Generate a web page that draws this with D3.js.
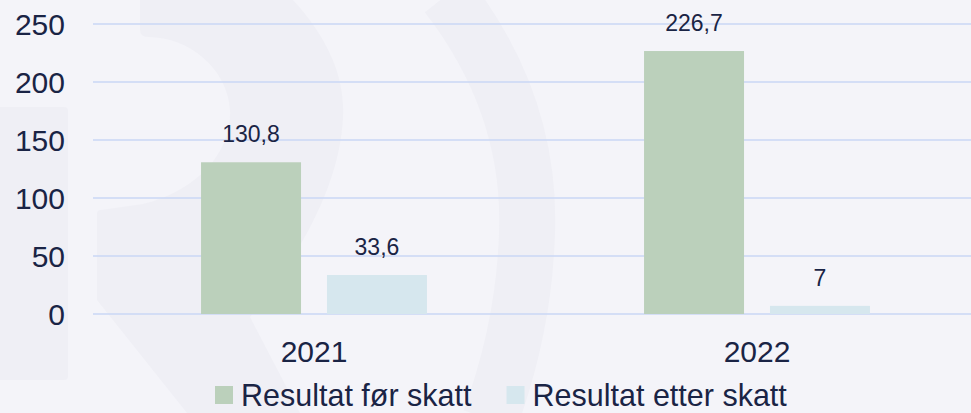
<!DOCTYPE html>
<html>
<head>
<meta charset="utf-8">
<script src="https://cdn.jsdelivr.net/npm/d3@7"></script>
<style>
  html, body { margin: 0; padding: 0; background: #f4f4f9; }
  svg { display: block; font-family: "Liberation Sans", Arial, sans-serif; }
</style>
</head>
<body>
<div class="chart"></div>
<script>
const years = ["2021", "2022"];
const series = ["Resultat før skatt", "Resultat etter skatt"];
const beforeTax = [130.8, 226.7];
const afterTax = [33.6, 7];
const valueLabels = [["130,8", "33,6"], ["226,7", "7"]];
const yTicks = [0, 50, 100, 150, 200, 250];

const w = 971;
const h = 413;
const textColour = "#1a2445";
const colours = ["#bbd0bb", "#d6e7ee"];

const svg = d3
  .select(".chart")
  .append("svg")
  .attr("width", w)
  .attr("height", h);

svg.append("rect").attr("width", w).attr("height", h).attr("fill", "#f4f4f9");

// faint logo watermark behind the chart
const mark = svg.append("g").attr("fill", "#efeff5");
mark.append("rect")
  .attr("x", -6).attr("y", 107).attr("width", 74).attr("height", 273).attr("rx", 4);
mark.append("path")
  .attr("d", "M140,0 L293,0 C330,40 345,80 343,117 C340,185 300,255 250,317 L300,413 L187,413 L97,300 L97,214 Q97,210 101,210 L143,204 C200,190 232,150 230,110 C228,70 190,37 148,37 Q140,37 140,30 Z");
mark.append("path")
  .attr("d", "M447,-5 C505,70 530,150 527,233 C525,300 512,360 490,420")
  .attr("fill", "none")
  .attr("stroke", "#efeff5")
  .attr("stroke-width", 56);

// scales
const yScale = d3.scaleLinear().domain([0, 250]).range([314, 24]);

const x0 = d3
  .scaleBand()
  .domain(years)
  .range([92.5, 978.5])
  .paddingInner(0.49)
  .paddingOuter(0.245);

const x1 = d3
  .scaleBand()
  .domain(series)
  .range([0, x0.bandwidth()])
  .paddingInner(0.206);

// gridlines
svg.append("g")
  .selectAll("line")
  .data(yTicks)
  .enter()
  .append("line")
  .attr("x1", 93)
  .attr("x2", w)
  .attr("y1", (d) => yScale(d))
  .attr("y2", (d) => yScale(d))
  .attr("stroke", "#cad7f4")
  .attr("stroke-width", 1.6);

// y axis labels
const yAxis = d3.axisLeft(yScale).tickValues(yTicks).tickSize(0).tickPadding(0);
const yG = svg.append("g")
  .attr("transform", "translate(65,0)")
  .call(yAxis);
yG.select(".domain").remove();
yG.selectAll("text")
  .attr("fill", textColour)
  .style("font-size", "30px")
  .style("font-family", "'Liberation Sans', Arial, sans-serif")
  .attr("dy", "0.36em");

// x axis labels
const xAxis = d3.axisBottom(x0).tickSize(0).tickPadding(0);
const xG = svg.append("g")
  .attr("transform", "translate(0,341)")
  .call(xAxis);
xG.select(".domain").remove();
xG.selectAll("text")
  .attr("fill", textColour)
  .attr("dy", "0.71em")
  .style("font-size", "30px")
  .style("font-family", "'Liberation Sans', Arial, sans-serif");

// bars
const rows = years.map((year, i) => ({
  year: year,
  values: [beforeTax[i], afterTax[i]],
  labels: valueLabels[i]
}));

const groups = svg.append("g")
  .selectAll("g")
  .data(rows)
  .enter()
  .append("g")
  .attr("transform", (d) => `translate(${x0(d.year)},0)`);

groups.selectAll("rect")
  .data((d) => d.values.map((v, j) => ({ key: series[j], value: v, label: d.labels[j] })))
  .enter()
  .append("rect")
  .attr("x", (d) => x1(d.key))
  .attr("y", (d) => yScale(d.value))
  .attr("width", x1.bandwidth())
  .attr("height", (d) => yScale(0) - yScale(d.value))
  .attr("fill", (d, j) => colours[j]);

groups.selectAll("text")
  .data((d) => d.values.map((v, j) => ({ key: series[j], value: v, label: d.labels[j] })))
  .enter()
  .append("text")
  .attr("x", (d) => x1(d.key) + x1.bandwidth() / 2)
  .attr("y", (d) => yScale(d.value) - 20)
  .attr("text-anchor", "middle")
  .attr("fill", textColour)
  .style("font-size", "23px")
  .text((d) => d.label);

// legend
const legend = svg.append("g").attr("transform", "translate(215,0)");
let lx = 0;
series.forEach((name, i) => {
  legend.append("rect")
    .attr("x", lx)
    .attr("y", 386)
    .attr("width", 18)
    .attr("height", 18)
    .attr("fill", colours[i]);
  const t = legend.append("text")
    .attr("x", lx + 26)
    .attr("y", 406)
    .attr("fill", textColour)
    .style("font-size", "30.5px")
    .text(name);
  lx += 26 + t.node().getComputedTextLength() + 35;
});
</script>
</body>
</html>
